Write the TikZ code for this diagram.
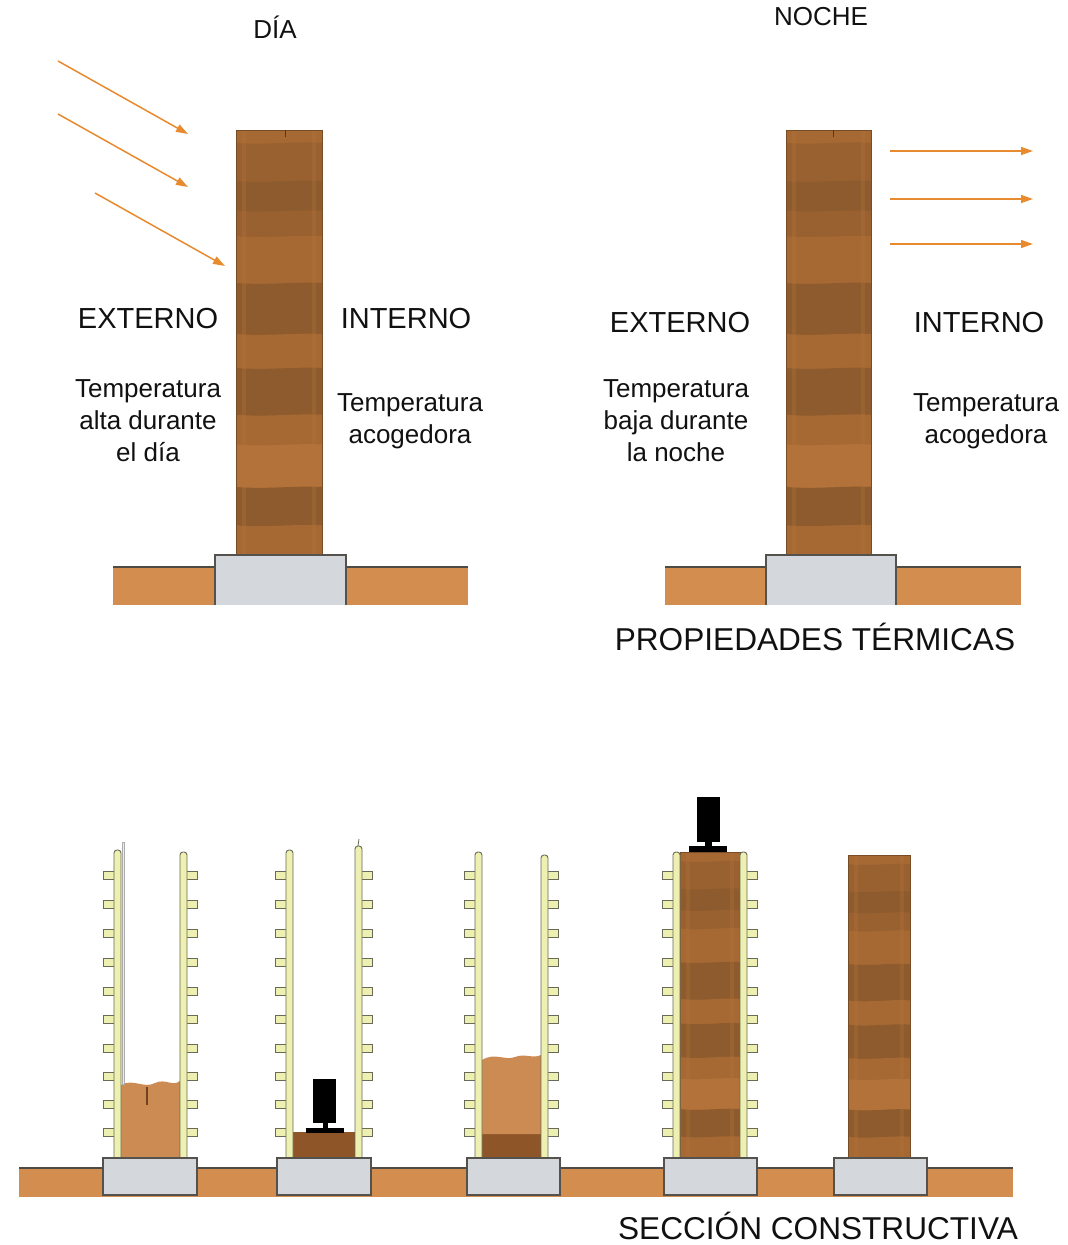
\documentclass[tikz,border=0pt]{standalone}
\usepackage{fontspec}
\setmainfont{Liberation Sans}
\usetikzlibrary{arrows.meta}

\definecolor{soil}{HTML}{D38D4E}
\definecolor{soilline}{HTML}{4F4A44}
\definecolor{footfill}{HTML}{D4D7DB}
\definecolor{footline}{HTML}{55524E}
\definecolor{heat}{HTML}{E88A2E}
\definecolor{earthA}{HTML}{8D5B2D}
\definecolor{earthB}{HTML}{996130}
\definecolor{earthC}{HTML}{A66934}
\definecolor{earthD}{HTML}{B27239}
\definecolor{looseearth}{HTML}{CB8B53}
\definecolor{packedearth}{HTML}{8E5529}
\definecolor{panelfill}{HTML}{EDF0B0}
\definecolor{panelline}{HTML}{6A6A58}
\definecolor{txt}{HTML}{111111}

% rammed-earth wall: x1, y1 (top), x2, y2 (bottom)
\newcommand{\earthwall}[4]{%
  \begin{scope}
    \clip (#1,#2) rectangle (#3,#4);
    \fill[earthB] (#1,#2) rectangle (#3,#4);
    \foreach \f/\c in {0/earthC,.03/earthB,.12/earthA,.19/earthB,.25/earthC,.36/earthA,.48/earthC,.56/earthA,.67/earthC,.74/earthD,.84/earthA,.93/earthC}{
      \pgfmathsetmacro\yy{#2+\f*(#4-#2)}
      \fill[\c] (#1,\yy) .. controls ({#1+0.35*(#3-#1)},{\yy+2.5}) and ({#1+0.7*(#3-#1)},{\yy-1.5}) .. (#3,\yy) -- (#3,#4) -- (#1,#4) -- cycle;
    }
    \fill[earthD, opacity=.35] ({#1+6},#2) rectangle ({#1+10},#4);
    \fill[earthD, opacity=.35] ({#3-10},#2) rectangle ({#3-6},#4);
  \end{scope}
  \draw[earthA!85!black, line width=.6] (#1,#2) rectangle (#3,#4);
}

% formwork panel: left x, top y, stud direction (-1 left, 1 right)
\newcommand{\formpanel}[3]{%
  \foreach \sy in {875,904,933,962,991,1019,1048,1076,1104,1132}{
    \draw[panelline, fill=panelfill, line width=.9] ({#1+3.5},{\sy-4}) rectangle ({#1+3.5+#3*14},{\sy+4});
  }
  \draw[panelline, fill=panelfill, line width=.9, rounded corners=3] (#1,1158) -- (#1,#2) -- ({#1+7},#2) -- ({#1+7},1158);
}

\tikzset{
  lbl/.style={text=txt, inner sep=0pt, font=\fontsize{29}{33}\selectfont},
  note/.style={text=txt, inner sep=0pt, align=center, font=\fontsize{26}{32}\selectfont},
  heading/.style={text=txt, inner sep=0pt, font=\fontsize{26}{30}\selectfont},
  caption/.style={text=txt, inner sep=0pt, font=\fontsize{31.6}{36}\selectfont},
  ray/.style={heat, line width=1.5, -{Triangle[length=12pt,width=8pt]}},
  footing/.style={footline, line width=1.5, fill=footfill},
}

\begin{document}
\begin{tikzpicture}[x=1pt, y=-1pt]
\useasboundingbox (0,0) rectangle (1068,1245);
\fill[white] (0,0) rectangle (1068,1245);

% ---------- daytime ----------
\node[heading] (dia) at (275,27) {DÍA};
\fill[soil] (113,567) rectangle (215,605);
\fill[soil] (346,567) rectangle (468,605);
\draw[soilline, line width=1.5] (113,567) -- (215,567) (346,567) -- (468,567);
\earthwall{236}{130}{322}{555}
\draw[earthA!60!black, line width=1] (285,130) -- (285,137);
\fill[footfill] (215,555) rectangle (346,605);
\draw[footline, line width=1.5] (215,605) -- (215,555) -- (346,555) -- (346,605);

\coordinate (s1a) at (58,61);  \coordinate (s1b) at (188,134);
\coordinate (s2a) at (58,114); \coordinate (s2b) at (188,187);
\coordinate (s3a) at (95,193); \coordinate (s3b) at (225,266);
\draw[ray] (s1a) -- (s1b);
\draw[ray] (s2a) -- (s2b);
\draw[ray] (s3a) -- (s3b);

\node[lbl] (extD) at (148,319) {EXTERNO};
\node[lbl] (intD) at (406,319) {INTERNO};
\node[note] (tempD) at (148,421) {Temperatura\\alta durante\\el día};
\node[note] (cozyD) at (410,421) {Temperatura\\acogedora};

% ---------- night ----------
\node[heading] (noche) at (821,17) {NOCHE};
\fill[soil] (665,567) rectangle (766,605);
\fill[soil] (896,567) rectangle (1021,605);
\draw[soilline, line width=1.5] (665,567) -- (766,567) (896,567) -- (1021,567);
\earthwall{786}{130}{871}{555}
\draw[earthA!60!black, line width=1] (833,130) -- (833,137);
\fill[footfill] (766,555) rectangle (896,605);
\draw[footline, line width=1.5] (766,605) -- (766,555) -- (896,555) -- (896,605);

\coordinate (h1a) at (890,151); \coordinate (h1b) at (1033,151);
\coordinate (h2a) at (890,199); \coordinate (h2b) at (1033,199);
\coordinate (h3a) at (890,244); \coordinate (h3b) at (1033,244);
\draw[ray] (h1a) -- (h1b);
\draw[ray] (h2a) -- (h2b);
\draw[ray] (h3a) -- (h3b);

\node[lbl] (extN) at (680,323) {EXTERNO};
\node[lbl] (intN) at (979,323) {INTERNO};
\node[note] (tempN) at (676,421) {Temperatura\\baja durante\\la noche};
\node[note] (cozyN) at (986,421) {Temperatura\\acogedora};

\node[caption] (thermal) at (815,637) {PROPIEDADES TÉRMICAS};

% ---------- construction sequence ----------
\fill[soil] (19,1168) rectangle (1013,1197);
\draw[soilline, line width=1.5] (19,1168) -- (1013,1168);

% step 1: loose earth poured between the panels
\fill[looseearth] (121,1158) -- (121,1085) .. controls (133,1078) and (144,1089) .. (155,1083) .. controls (166,1078) and (172,1087) .. (180,1081) -- (180,1158) -- cycle;
\draw[packedearth!80!black, line width=1.5] (147,1087) -- (147,1105);
\draw[gray!65, line width=3] (123,842) -- (123,1085);
\draw[gray!15, line width=1] (123,843) -- (123,1084);
\formpanel{114}{850}{-1}
\formpanel{180}{852}{1}

% step 2: compacting the first layer
\fill[packedearth] (293,1132) rectangle (355,1158);
\fill[black] (313,1079) rectangle (336,1123);
\fill[black] (323,1123) rectangle (328,1128);
\fill[black] (306,1128) rectangle (344,1133);
\formpanel{286}{850}{-1}
\formpanel{355}{846}{1}
\draw[panelline, line width=.8] (358,846) -- (359,839);

% step 3: next layer of loose earth
\fill[packedearth] (482,1134) rectangle (541,1158);
\fill[looseearth] (482,1134) -- (482,1060) .. controls (495,1052) and (505,1061) .. (515,1057) .. controls (525,1053) and (533,1059) .. (541,1055) -- (541,1134) -- cycle;
\formpanel{475}{852}{-1}
\formpanel{541}{855}{1}

% step 4: full height compacted
\earthwall{680}{852}{740}{1158}
\fill[black] (697,797) rectangle (720,842);
\fill[black] (705,842) rectangle (712,847);
\fill[black] (689,846) rectangle (727,852);
\formpanel{673}{852}{-1}
\formpanel{740}{852}{1}

% step 5: formwork removed
\earthwall{848}{855}{910}{1158}

% footings
\draw[footing] (103,1158) rectangle (197,1195);
\draw[footing] (277,1158) rectangle (371,1195);
\draw[footing] (467,1158) rectangle (560,1195);
\draw[footing] (664,1158) rectangle (757,1195);
\draw[footing] (834,1158) rectangle (927,1195);

\node[caption] (section) at (818,1226) {SECCIÓN CONSTRUCTIVA};
\end{tikzpicture}
\end{document}
